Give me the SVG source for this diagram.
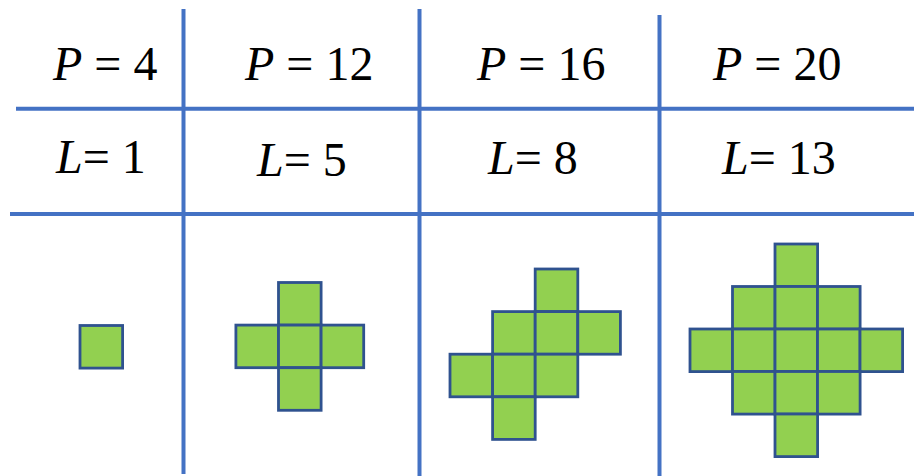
<svg xmlns="http://www.w3.org/2000/svg" xmlns:xlink="http://www.w3.org/1999/xlink" width="914" height="476" viewBox="0 0 914 476">
<style>
.grid line{stroke:#4472C4;stroke-width:4;}
.t{font-family:"Liberation Serif","Times New Roman",Times,"Nimbus Roman","Nimbus Roman No9 L","FreeSerif","Noto Serif","Tinos","DejaVu Serif",serif;font-size:48px;fill:#000;}
.i{font-style:italic;}
.sq{fill:#92D050;stroke:#2F528F;stroke-width:2.8;}
</style>
<defs>
<rect id="c" class="sq" width="42.6" height="42.6"/>
</defs>
<rect width="914" height="476" fill="#fff"/>
<g id="connectors" class="grid">
<line x1="183.5" y1="9" x2="183.5" y2="474"/>
<line x1="419.5" y1="9" x2="419.5" y2="476"/>
<line x1="659.5" y1="15" x2="659.5" y2="476"/>
<line x1="16" y1="108.8" x2="914" y2="108.8"/>
<line x1="10" y1="214" x2="914" y2="214"/>
</g>
<g id="labels-p">
<text class="t" x="53" y="80"><tspan class="i">P</tspan> = 4</text>
<text class="t" x="245" y="80"><tspan class="i">P</tspan> = 12</text>
<text class="t" x="477" y="80"><tspan class="i">P</tspan> = 16</text>
<text class="t" x="713" y="80"><tspan class="i">P</tspan> = 20</text>
</g>
<g id="labels-l">
<text class="t" x="56" y="173"><tspan class="i">L</tspan>= 1</text>
<text class="t" x="257" y="176"><tspan class="i">L</tspan>= 5</text>
<text class="t" x="488" y="174"><tspan class="i">L</tspan>= 8</text>
<text class="t" x="722" y="174"><tspan class="i">L</tspan>= 13</text>
</g>
<g id="shape1">
<use xlink:href="#c" x="80" y="325.5"/>
</g>
<g id="shape5">
<use xlink:href="#c" x="278.5" y="282.5"/>
<use xlink:href="#c" x="235.9" y="325.1"/>
<use xlink:href="#c" x="278.5" y="325.1"/>
<use xlink:href="#c" x="321.1" y="325.1"/>
<use xlink:href="#c" x="278.5" y="367.7"/>
</g>
<g id="shape8">
<use xlink:href="#c" x="535.2" y="269"/>
<use xlink:href="#c" x="492.6" y="311.6"/>
<use xlink:href="#c" x="535.2" y="311.6"/>
<use xlink:href="#c" x="577.8" y="311.6"/>
<use xlink:href="#c" x="450" y="354.2"/>
<use xlink:href="#c" x="492.6" y="354.2"/>
<use xlink:href="#c" x="535.2" y="354.2"/>
<use xlink:href="#c" x="492.6" y="396.8"/>
</g>
<g id="shape13">
<use xlink:href="#c" x="775" y="244"/>
<use xlink:href="#c" x="732.5" y="286.5"/>
<use xlink:href="#c" x="775" y="286.5"/>
<use xlink:href="#c" x="817.5" y="286.5"/>
<use xlink:href="#c" x="690" y="329"/>
<use xlink:href="#c" x="732.5" y="329"/>
<use xlink:href="#c" x="775" y="329"/>
<use xlink:href="#c" x="817.5" y="329"/>
<use xlink:href="#c" x="860" y="329"/>
<use xlink:href="#c" x="732.5" y="371.5"/>
<use xlink:href="#c" x="775" y="371.5"/>
<use xlink:href="#c" x="817.5" y="371.5"/>
<use xlink:href="#c" x="775" y="414"/>
</g>
</svg>
